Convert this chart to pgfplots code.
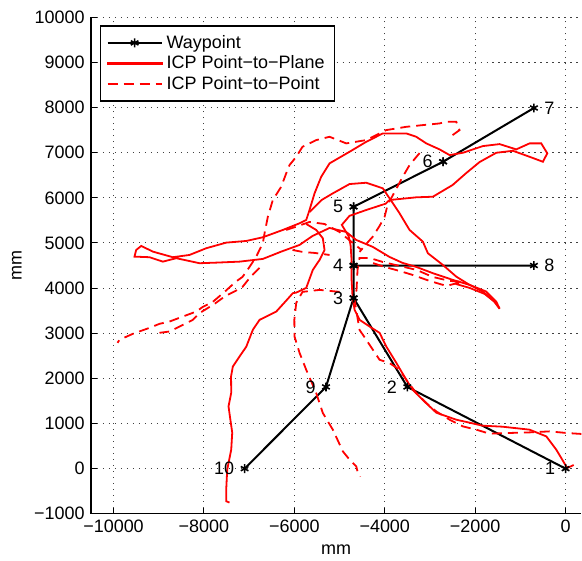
\documentclass[border=0pt]{standalone}
\usepackage{fontspec}
\setmainfont{Liberation Sans}
\usepackage{pgfplots}
\pgfplotsset{compat=1.18}
\pgfplotsset{
  linelegend/.style={legend image code/.code={\draw[##1] (0pt,0pt) -- (27pt,0pt);}},
  planelegend/.style={legend image code/.code={\fill[red] (0pt,-0.45pt) rectangle (27pt,0.45pt);}},
  waylegend/.style={legend image code/.code={\draw[mark repeat=2,mark phase=2,##1] plot coordinates {(0pt,0pt) (13.5pt,0pt) (27pt,0pt)};}},
}
\begin{document}
\fontsize{9}{10.8}\selectfont
\begin{tikzpicture}
\begin{axis}[
  scale only axis, width=245.5pt, height=248.5pt,
  xmin=-10500, xmax=350, ymin=-1000, ymax=10000,
  scaled ticks=false,
  axis x line*=bottom, axis y line*=left,
  axis line style={line width=0.6pt},
  xtick={-10000,-8000,-6000,-4000,-2000,0},
  xticklabels={−10000,−8000,−6000,−4000,−2000,0},
  ytick={-1000,0,1000,2000,3000,4000,5000,6000,7000,8000,9000,10000},
  yticklabels={−1000,0,1000,2000,3000,4000,5000,6000,7000,8000,9000,10000},
  tick align=inside, major tick length=3pt,
  tick style={black, line width=0.5pt},
  grid=major, major grid style={dash pattern=on 0.6pt off 2.4pt, black!75, line width=0.5pt},
  xlabel={mm}, ylabel={mm},
  ticklabel style={font=\fontsize{9}{10.8}\selectfont},
  label style={font=\fontsize{9}{10.8}\selectfont},
  legend style={at={(axis description cs:0.0183,0.984)}, anchor=north west, draw=black, line width=0.8pt, fill=white, font=\fontsize{9}{10.8}\selectfont, cells={anchor=west}, inner xsep=3pt, inner ysep=2.5pt, row sep=-1.5pt},
  linelegend,
  clip=true,
]
% Waypoints
\addplot[black, line width=1pt, mark=asterisk, mark size=2.2pt, mark options={solid, line width=0.8pt}, waylegend] coordinates {
(0,0) (-3500,1810) (-4690,3780) (-4690,4500) (-4690,5800) (-2710,6800) (-700,7990) (-2710,6800) (-4690,5800) (-4690,4500) (-700,4500) (-4690,4500) (-4690,3780) (-5300,1810) (-7100,0)
};
\addlegendentry{Waypoint}

% ICP Point-to-Plane (solid)
\addplot[color=red, line width=0.9pt, mark=none, planelegend] coordinates {
(180,80) (50,20) (15,50) (-206,420) (-427,715) (-796,863) (-1394,929) (-1836,951) (-2124,1018) (-2418,1084) (-2860,1239) (-3163,1526) (-3384,1747) (-3524,1969) (-3745,2345) (-3966,2705) (-4114,3008) (-4336,3148) (-4557,3296) (-4667,3517) (-4712,3811) (-4734,4181) (-4734,4623) (-4756,4955) (-4800,5150) (-4950,5400) (-4780,5600) (-4410,5730) (-3980,5870) (-3894,5951) (-3303,6011) (-2936,6024) (-2500,6283) (-2197,6549) (-1903,6792) (-1533,6998) (-1166,7042) (-796,6909) (-502,6799) (-405,6985) (-538,7206) (-796,7206) (-1091,7073) (-1460,7190) (-1830,7146) (-2272,6998) (-2566,6947) (-2788,7073) (-3082,7206) (-3303,7352) (-3524,7427) (-4042,7427) (-4409,7241) (-4779,7020) (-5221,6763) (-5405,6467) (-5553,6099) (-5664,5730) (-5737,5509) (-5885,5436) (-6254,5288) (-6697,5126) (-7064,5044) (-7507,5007) (-7949,4883) (-8319,4734) (-8688,4684) (-9130,4808) (-9387,4934) (-9498,4845) (-9536,4697) (-9204,4684) (-8909,4586) (-8613,4662) (-8097,4551) (-7728,4564) (-7212,4586) (-6697,4646) (-6290,4808) (-5885,4956) (-5597,5155) (-5221,5332) (-4852,5243) (-4630,5066) (-4263,4912) (-3894,4690) (-3606,4558) (-3303,4469) (-2936,4330) (-2493,4181) (-2124,4071) (-1754,3923) (-1533,3701) (-1460,3540) (-1571,3695) (-1792,3872) (-2124,4004) (-2434,4093)
};
\addlegendentry{ICP Point−to−Plane}

% ICP Point-to-Point (dashed)
\addplot[color=red, line width=0.9pt, dash pattern=on 5pt off 3pt, mark=none] coordinates {
(354,768) (15,790) (-354,825) (-796,803) (-1239,790) (-1681,774) (-1976,863) (-2272,936) (-2566,1084) (-2861,1268) (-3082,1454) (-3303,1675) (-3524,1969) (-3673,2190) (-3894,2338) (-4115,2412) (-4263,2633) (-4409,2854) (-4558,3075) (-4595,3296) (-4630,3518) (-4668,3739) (-4624,3960) (-4602,4403) (-4558,4668) (-4336,4668) (-4049,4580) (-3673,4491) (-3296,4403) (-2943,4248) (-2566,4159) (-2279,4137) (-2640,4049) (-3009,4159) (-3385,4292) (-3673,4380) (-4004,4469) (-4336,4580)
};
\addlegendentry{ICP Point−to−Point}

\addplot[color=red, line width=0.9pt, mark=none, forget plot] coordinates {
(-5664,5686) (-5398,5951) (-5148,6099) (-4779,6305) (-4409,6334) (-4042,6210) (-3894,5989) (-3673,5657) (-3451,5288) (-3157,5029) (-3046,4772) (-2715,4513) (-2418,4254) (-2124,4071) (-1830,3923) (-1608,3739) (-1460,3555)
};
\addplot[color=red, line width=0.9pt, mark=none, forget plot] coordinates {
(-5737,5420) (-5516,5288) (-5370,5104) (-5332,4845) (-5442,4624) (-5591,4403) (-5737,4004) (-5958,3900) (-6033,3887) (-6200,3700) (-6400,3480) (-6770,3296) (-6918,3075) (-7064,2700) (-7212,2485) (-7360,2263) (-7400,2042) (-7396,1681) (-7456,1378) (-7374,796) (-7396,420) (-7485,-22) (-7507,-465) (-7507,-723) (-7434,-752)
};
\addplot[color=red, line width=0.9pt, dash pattern=on 5pt off 3pt, mark=none, forget plot] coordinates {
(-3230,6991) (-3451,6726) (-3606,6460) (-3783,6128) (-3938,5841) (-4004,5575) (-4115,5376) (-4270,5133) (-4409,4978) (-4558,4801)
};
\addplot[color=red, line width=0.9pt, dash pattern=on 5pt off 3pt, mark=none, forget plot] coordinates {
(-2500,7389) (-2345,7500) (-2418,7684) (-2640,7684) (-2788,7648) (-3157,7611) (-3524,7573) (-3967,7500) (-4409,7279) (-4852,7206) (-5221,7352) (-5516,7279) (-5819,7131) (-5958,6909) (-6106,6726) (-6180,6542) (-6290,6246) (-6476,5951) (-6586,5582) (-6659,5214) (-6697,4993) (-6858,4668) (-6991,4469) (-7146,4248) (-7301,4137) (-7544,3916) (-7803,3695) (-8024,3584) (-8170,3480) (-8467,3369) (-8761,3259) (-8983,3208) (-9204,3119) (-9573,2987) (-9867,2854) (-9912,2788)
};
\addplot[color=red, line width=0.9pt, dash pattern=on 5pt off 3pt, mark=none, forget plot] coordinates {
(-6770,4447) (-6969,4248) (-7146,4027) (-7301,3938) (-7522,3827) (-7766,3650) (-8097,3445) (-8245,3296) (-8540,3148) (-8761,3038) (-8983,3009)
};
\addplot[color=red, line width=0.9pt, dash pattern=on 5pt off 3pt, mark=none, forget plot] coordinates {
(-5000,3916) (-5442,3960) (-5819,3916) (-5958,3673) (-6000,3300) (-5996,2927) (-5885,2566) (-5737,2190) (-5516,1675) (-5370,1232) (-5148,863) (-4927,383) (-4779,199) (-4630,51) (-4602,-66) (-4540,-177)
};
\addplot[color=red, line width=0.9pt, dash pattern=on 5pt off 3pt, mark=none, forget plot] coordinates {
(-6180,5288) (-5958,5361) (-5664,5465) (-5332,5420) (-5000,5243) (-4734,5022) (-4513,4845)
};
\addplot[color=red, line width=0.9pt, dash pattern=on 5pt off 3pt, mark=none, forget plot] coordinates {
(-6040,4845) (-5819,4801) (-5553,4779) (-5221,4734)
};

% Waypoint labels
\addplot[draw=none, mark=none, forget plot, nodes near coords, point meta=explicit symbolic,
  every node near coord/.append style={anchor=east, inner sep=0pt, xshift=-5pt, font=\fontsize{9}{10.8}\selectfont, text=black}] coordinates {
(0,0)[1] (-3500,1810)[2] (-4690,3780)[3] (-4690,4500)[4] (-4690,5800)[5] (-2710,6800)[6] (-5300,1810)[9] (-7100,0)[10]
};
\addplot[draw=none, mark=none, forget plot, nodes near coords, point meta=explicit symbolic,
  every node near coord/.append style={anchor=west, inner sep=0pt, xshift=5pt, font=\fontsize{9}{10.8}\selectfont, text=black}] coordinates {
(-700,7990)[7] (-700,4500)[8]
};
\end{axis}
\path (current axis.south west) ++(-45.5pt,-22.35pt) rectangle ++(291pt,279.5pt);
\end{tikzpicture}
\end{document}
